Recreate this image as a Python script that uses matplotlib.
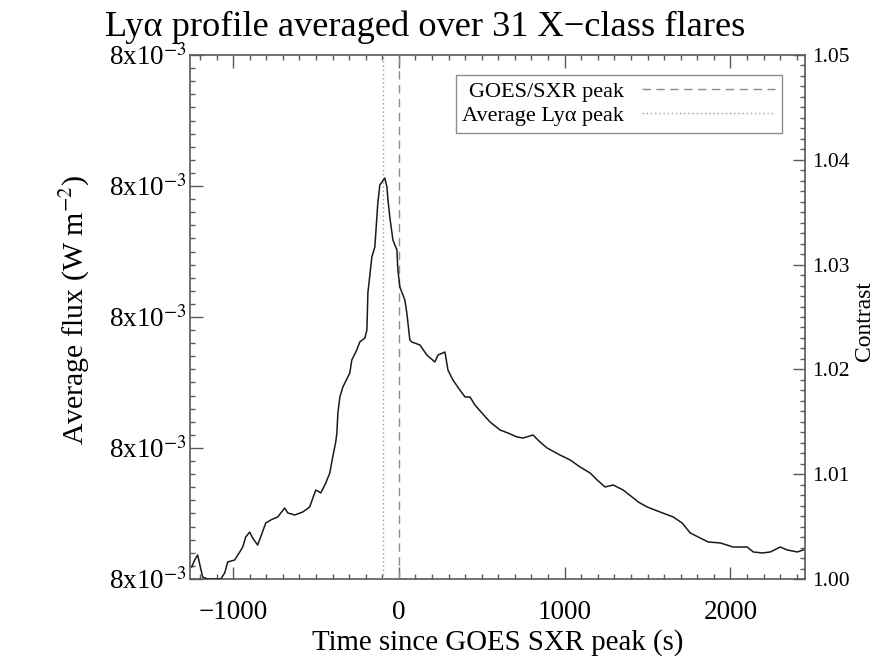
import matplotlib
matplotlib.use('Agg')
import matplotlib.pyplot as plt
from matplotlib.ticker import MultipleLocator, FormatStrFormatter

plt.rcParams['font.family'] = ['Liberation Serif', 'DejaVu Serif']
plt.rcParams['mathtext.fontset'] = 'stix'

# time since GOES SXR peak (s) and Lya contrast
time_s = [-1250, -1232, -1214, -1184, -1154, -1111, -1075, -1051, -1033, -991,
          -960, -942, -924, -900, -882, -852, -834, -803, -773, -731,
          -689, -670, -628, -580, -538, -519, -501, -471, -441, -417,
          -399, -381, -374, -368, -356, -338, -326, -296, -284, -254,
          -236, -205, -193, -187, -163, -145, -127, -115, -85, -72,
          -66, -54, -36, -12, -6, 6, 36, 48, 66, 79,
          127, 169, 217, 236, 278, 296, 326, 368, 399, 429,
          459, 501, 550, 610, 658, 713, 749, 809, 852, 894,
          972, 1033, 1093, 1154, 1196, 1244, 1293, 1353, 1407, 1444,
          1498, 1576, 1655, 1709, 1758, 1818, 1866, 1939, 2017, 2102,
          2138, 2193, 2241, 2301, 2343, 2404, 2440]
contrast = [1.00115, 1.00181, 1.00229, 1.00019, 1.00000, 1.00000, 1.00000, 1.00057, 1.00162, 1.00181,
            1.00258, 1.00305, 1.00401, 1.00448, 1.00391, 1.00324, 1.00401, 1.00534, 1.00563, 1.00592,
            1.00677, 1.00630, 1.00611, 1.00639, 1.00687, 1.00773, 1.00849, 1.00821, 1.00916, 1.01011,
            1.01164, 1.01307, 1.01393, 1.01584, 1.01737, 1.01832, 1.01870, 1.01966, 1.02090, 1.02185,
            1.02261, 1.02300, 1.02376, 1.02729, 1.03073, 1.03168, 1.03588, 1.03760, 1.03826, 1.03741,
            1.03617, 1.03445, 1.03235, 1.03139, 1.02949, 1.02786, 1.02662, 1.02538, 1.02281, 1.02261,
            1.02233, 1.02137, 1.02071, 1.02137, 1.02166, 1.01994, 1.01899, 1.01803, 1.01737, 1.01737,
            1.01660, 1.01584, 1.01498, 1.01422, 1.01393, 1.01355, 1.01345, 1.01374, 1.01307, 1.01250,
            1.01183, 1.01136, 1.01069, 1.01011, 1.00945, 1.00878, 1.00897, 1.00849, 1.00782, 1.00735,
            1.00687, 1.00639, 1.00592, 1.00534, 1.00439, 1.00391, 1.00353, 1.00344, 1.00305, 1.00305,
            1.00258, 1.00248, 1.00258, 1.00305, 1.00277, 1.00258, 1.00277]

goes_peak = 0
lya_peak = -96

flux_tick_labels = ['8x10$^{-3}$'] * 5
x_ticks = [-1000, 0, 1000, 2000]

AXCOL = '0.35'

fig = plt.figure(figsize=(8.88, 6.62), dpi=100)
ax = fig.add_axes([0.214, 0.1254, 0.6925, 0.7915])

# left axis: flux (the labels all print as 8x10^-3)
ax.set_xlim(-1260, 2450)
ax.set_ylim(0, 4)
ax.set_yticks(range(5))
ax.set_yticklabels(flux_tick_labels)
ax.yaxis.set_minor_locator(MultipleLocator(0.1))
ax.xaxis.set_major_locator(plt.FixedLocator(x_ticks))
ax.xaxis.set_minor_locator(MultipleLocator(100))
ax.tick_params(which='both', direction='in', top=True, bottom=True, left=True, right=False,
               color=AXCOL, width=1.0)
ax.tick_params(which='major', length=9)
ax.tick_params(which='minor', length=3.6)
ax.tick_params(axis='x', which='major', labelsize=19.5, pad=15)
ax.tick_params(axis='y', which='major', labelsize=19.5, pad=2)
for s in ax.spines.values():
    s.set_color(AXCOL)
    s.set_linewidth(1.2)

# right axis: contrast, carries the curve
axr = ax.twinx()
axr.plot(time_s, contrast, color='0.1', lw=1.1, zorder=3)
axr.axvline(goes_peak, color='0.55', lw=1.0, ls=(0, (6, 4)), label='GOES/SXR peak')
axr.axvline(lya_peak, color='0.6', lw=1.0, ls=(0, (1, 2)), label='Average Ly\u03b1 peak')
axr.set_xlim(-1260, 2450)
axr.set_ylim(1.0, 1.05)
axr.yaxis.set_major_locator(MultipleLocator(0.01))
axr.yaxis.set_minor_locator(MultipleLocator(0.001))
axr.yaxis.set_major_formatter(FormatStrFormatter('%.2f'))
axr.tick_params(which='both', direction='in', color=AXCOL, width=1.0)
axr.tick_params(which='major', length=9, labelsize=15.5, pad=5)
axr.tick_params(which='minor', length=3.6)
for s in axr.spines.values():
    s.set_visible(False)

leg = axr.legend(loc='upper right', bbox_to_anchor=(0.9626, 0.962), markerfirst=False,
                 fontsize=16, handlelength=6.0, handletextpad=0.8, borderaxespad=0,
                 fancybox=False, framealpha=1, edgecolor='0.55', labelspacing=0.15,
                 borderpad=0.3)
leg.get_frame().set_linewidth(1.0)

fig.text(0.479, 0.946, 'Ly\u03b1 profile averaged over 31 X\u2212class flares',
         ha='center', va='baseline', fontsize=26.2)
fig.text(0.5603, 0.029, 'Time since GOES SXR peak (s)', ha='center', va='center', fontsize=20.8)
fig.text(0.0845, 0.532, 'Average flux (W m$^{-2}$)', ha='center', va='center',
         rotation=90, fontsize=21.5)
fig.text(0.974, 0.515, 'Contrast', ha='center', va='center', rotation=90, fontsize=17)

fig.savefig('out.png', dpi=100)
